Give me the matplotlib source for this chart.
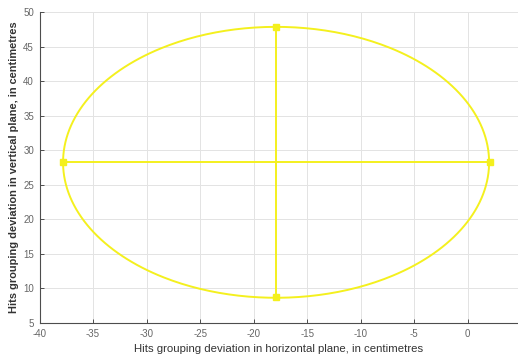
import numpy as np
import matplotlib
matplotlib.use("Agg")
import matplotlib.pyplot as plt

# ellipse of hits grouping (centre and semi-axes, cm)
centre_x = -17.9
centre_y = 28.25
half_width = 19.9
half_height = 19.6
# cross lines: horizontal and vertical extent
h_line_x = [-37.8, 2.05]
h_line_y = [28.25, 28.25]
v_line_x = [-17.9, -17.9]
v_line_y = [47.8, 8.7]

xticks = [-40, -35, -30, -25, -20, -15, -10, -5, 0]
yticks = [5, 10, 15, 20, 25, 30, 35, 40, 45, 50]

yellow = "#f4f01e"
plt.rcParams["font.family"] = ["Liberation Sans", "DejaVu Sans"]
plt.rcParams["axes.unicode_minus"] = False

fig = plt.figure(figsize=(5.18, 3.61), dpi=100)
ax = fig.add_axes([39.5 / 518, 1 - 323 / 361, (518 - 39.5) / 518, (323 - 12) / 361])

t = np.linspace(0, 2 * np.pi, 400)
ax.plot(centre_x + half_width * np.cos(t), centre_y + half_height * np.sin(t), color=yellow, lw=1.4)
ax.plot(h_line_x, h_line_y, color=yellow, lw=1.4, marker="s", ms=4)
ax.plot(v_line_x, v_line_y, color=yellow, lw=1.4, marker="s", ms=4)

ax.set_xlim(-40, 4.7)
ax.set_ylim(5, 50)
ax.set_xticks(xticks)
ax.set_yticks(yticks)
ax.grid(True, color="#e3e3e3", lw=0.7)
ax.set_axisbelow(True)
for s in ["top", "right"]:
    ax.spines[s].set_visible(False)
for s in ["bottom", "left"]:
    ax.spines[s].set_color("#4d4d4d")
    ax.spines[s].set_linewidth(0.8)
ax.tick_params(direction="in", length=3, width=0.7, colors="#4d4d4d", labelsize=7, pad=4)
for lab in ax.get_xticklabels() + ax.get_yticklabels():
    lab.set_color("#666666")

ax.set_xlabel("Hits grouping deviation in horizontal plane, in centimetres", fontsize=8.2, color="#333333", labelpad=4)
ax.set_ylabel("Hits grouping deviation in vertical plane, in centimetres", fontsize=7.9, color="#333333", fontweight="bold", labelpad=3)

fig.savefig("out.png", dpi=100)
